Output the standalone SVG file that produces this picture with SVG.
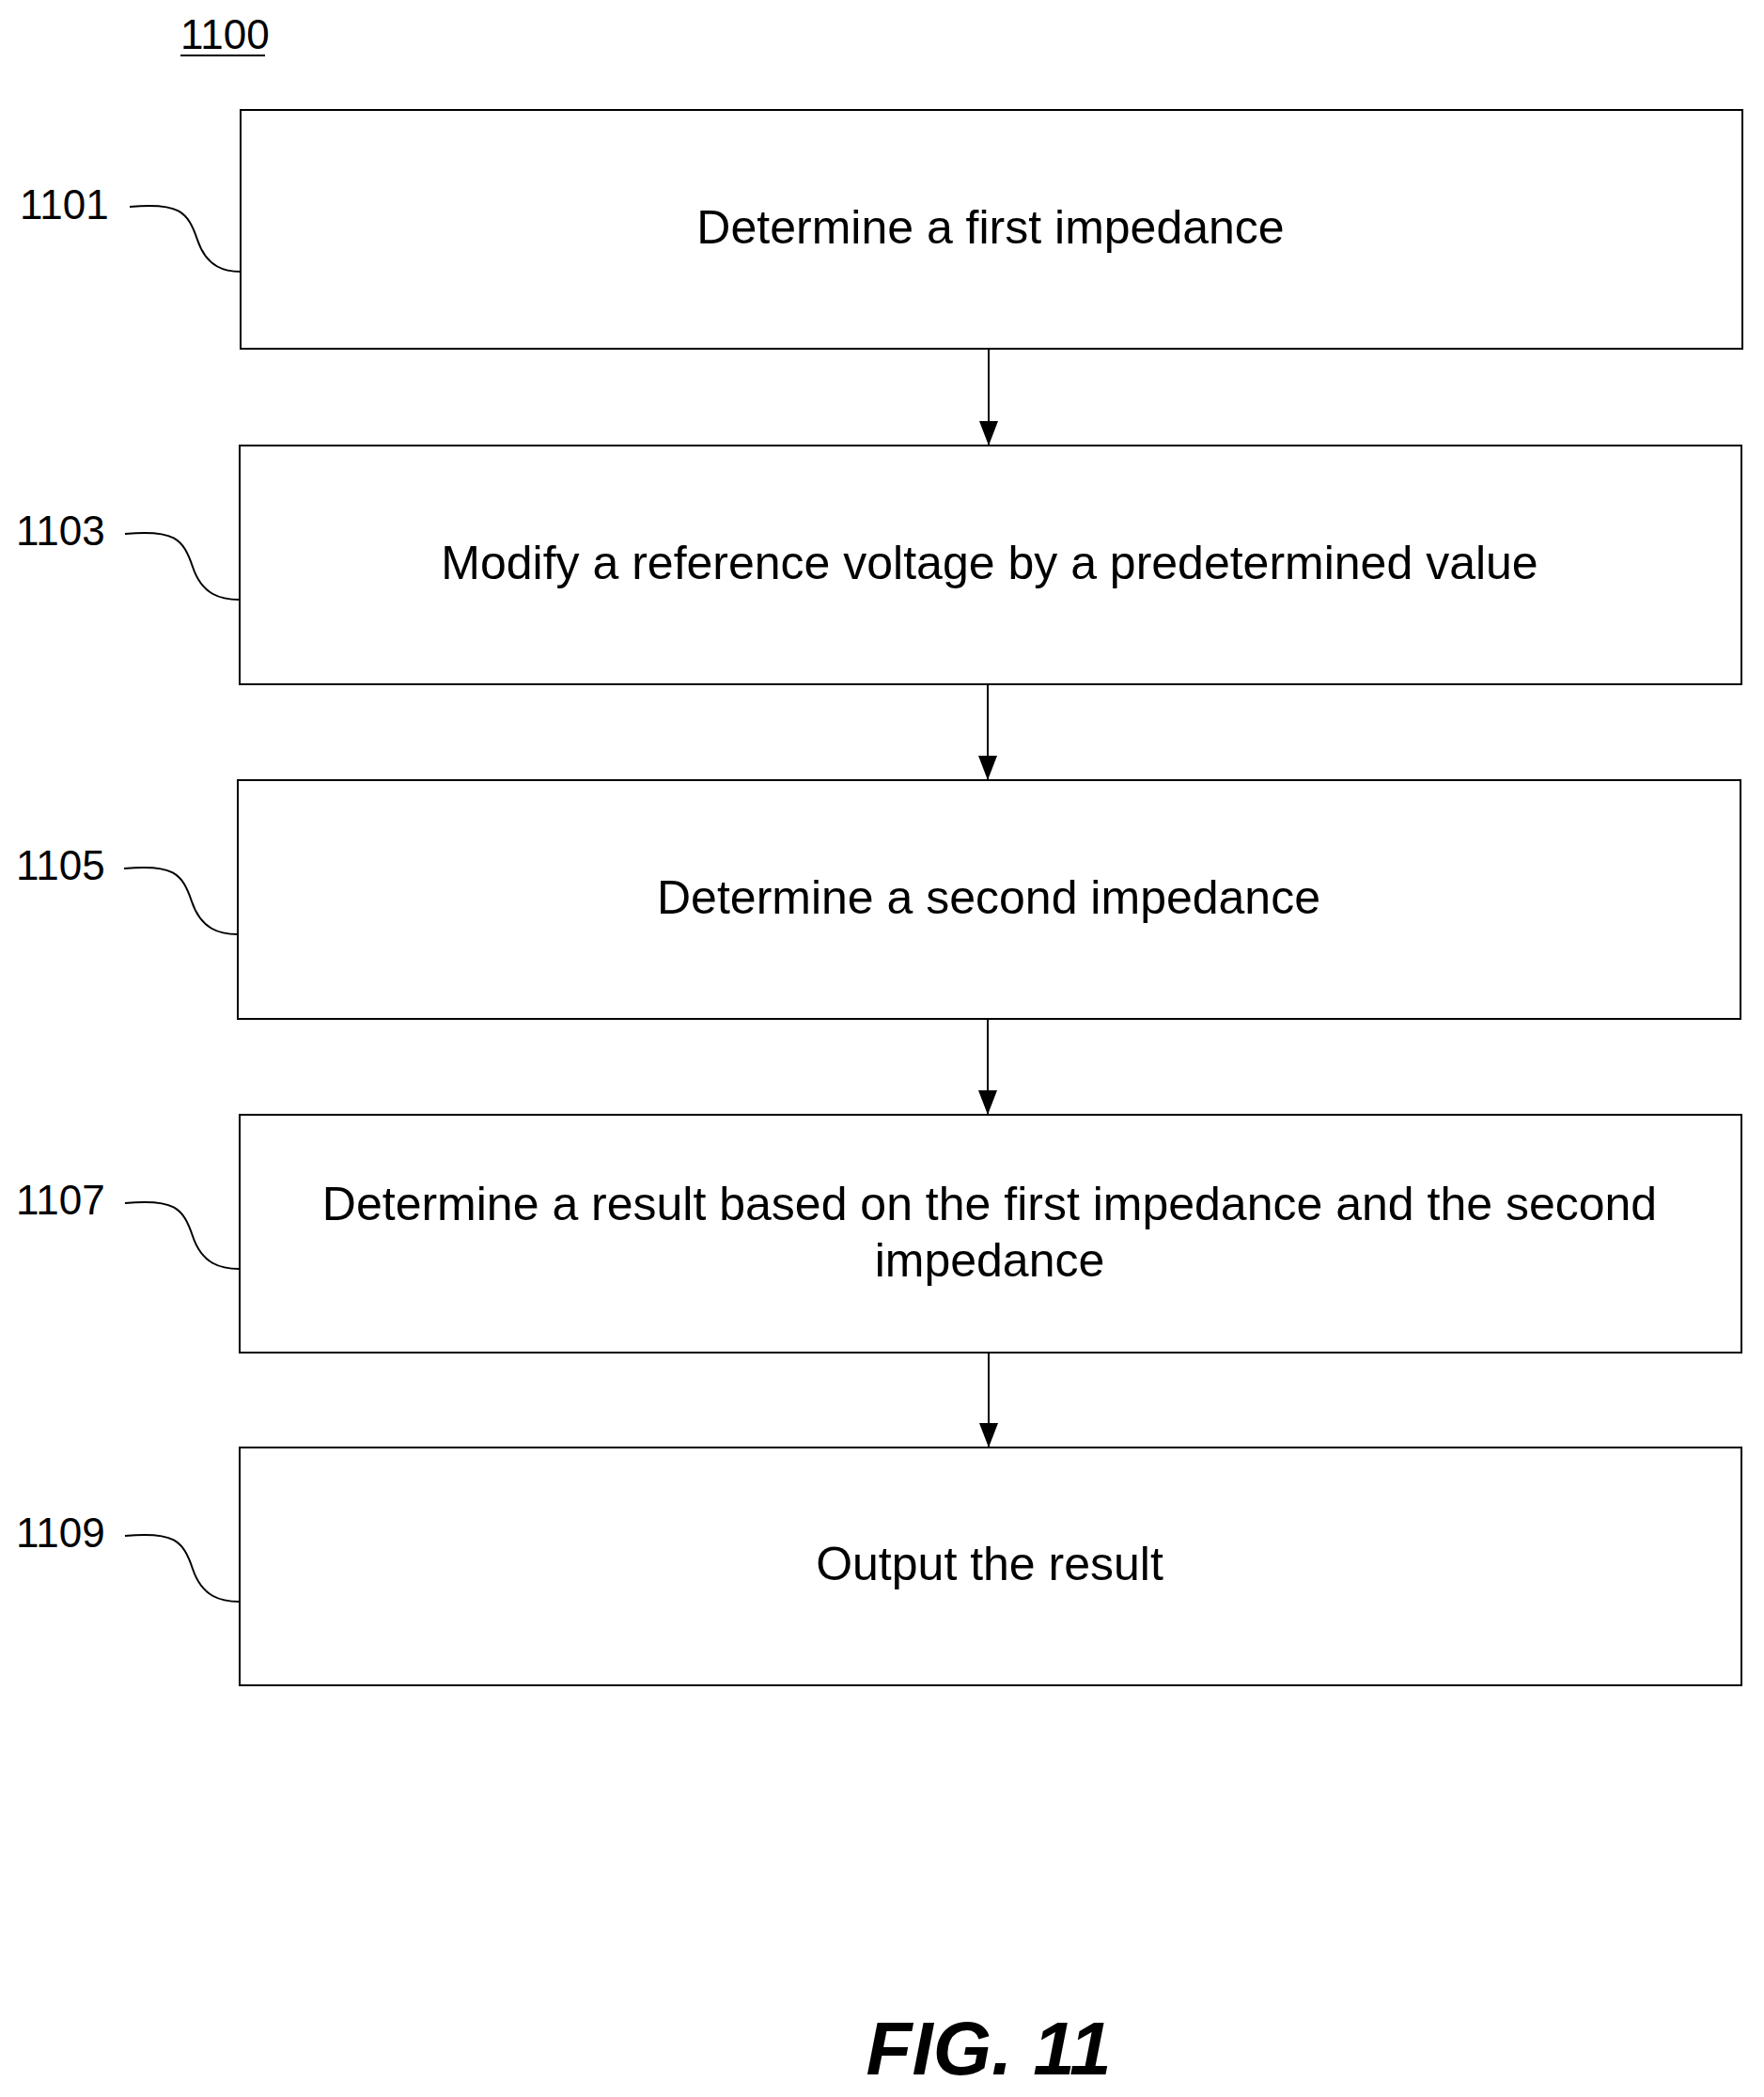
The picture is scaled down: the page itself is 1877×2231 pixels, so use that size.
<svg xmlns="http://www.w3.org/2000/svg" width="1877" height="2231" viewBox="0 0 1877 2231">
<style>
.box{fill:#fff;stroke:#000;stroke-width:2}
.t{font-family:"Liberation Sans",Arial,sans-serif;font-size:50px;text-anchor:middle;fill:#000}
.l{font-family:"Liberation Sans",Arial,sans-serif;font-size:44px;fill:#000}
.c{fill:none;stroke:#000;stroke-width:2}
</style>
<defs><marker id="a" markerWidth="26" markerHeight="26" refX="25" refY="10" orient="auto" markerUnits="userSpaceOnUse" viewBox="0 0 26 20"><path d="M0,0 L26,10 L0,20 z" fill="#000"/></marker></defs>
<rect width="1877" height="2231" fill="#fff"/>
<text class="l" x="192" y="52">1100</text>
<line x1="192" y1="59" x2="282" y2="59" stroke="#000" stroke-width="2"/>
<g id="n1101"><rect class="box" x="256" y="117" width="1598" height="254"/><text class="t" x="1054" y="259">Determine a first impedance</text><text class="l" x="21" y="233">1101</text><path class="c" d="M138,220 C190,215 200,225 210,255 C220,285 240,289 256,289"/></g>
<g id="n1103"><rect class="box" x="255" y="474" width="1598" height="254"/><text class="t" x="1053" y="616">Modify a reference voltage by a predetermined value</text><text class="l" x="17" y="580">1103</text><path class="c" d="M133,568 C185,563 195,573 205,603 C215,633 235,638 255,638"/></g>
<g id="n1105"><rect class="box" x="253" y="830" width="1599" height="254"/><text class="t" x="1052" y="972">Determine a second impedance</text><text class="l" x="17" y="936">1105</text><path class="c" d="M132,924 C184,919 194,929 204,959 C214,989 234,994 253,994"/></g>
<g id="n1107"><rect class="box" x="255" y="1186" width="1598" height="253"/><text class="t" x="1053" y="1298">Determine a result based on the first impedance and the second</text><text class="t" x="1053" y="1358">impedance</text><text class="l" x="17" y="1292">1107</text><path class="c" d="M133,1280 C185,1275 195,1285 205,1315 C215,1345 235,1350 255,1350"/></g>
<g id="n1109"><rect class="box" x="255" y="1540" width="1598" height="253"/><text class="t" x="1053" y="1681">Output the result</text><text class="l" x="17" y="1646">1109</text><path class="c" d="M133,1634 C185,1629 195,1639 205,1669 C215,1699 235,1704 255,1704"/></g>
<g id="connectors" stroke="#000" stroke-width="2">
<line x1="1052" y1="371" x2="1052" y2="473" marker-end="url(#a)"/>
<line x1="1051" y1="728" x2="1051" y2="829" marker-end="url(#a)"/>
<line x1="1051" y1="1084" x2="1051" y2="1185" marker-end="url(#a)"/>
<line x1="1052" y1="1439" x2="1052" y2="1539" marker-end="url(#a)"/>
</g>
<text x="1052" y="2207" font-family="Liberation Sans,Arial,sans-serif" font-size="80" font-weight="bold" font-style="italic" text-anchor="middle">FIG. 11</text>
</svg>
